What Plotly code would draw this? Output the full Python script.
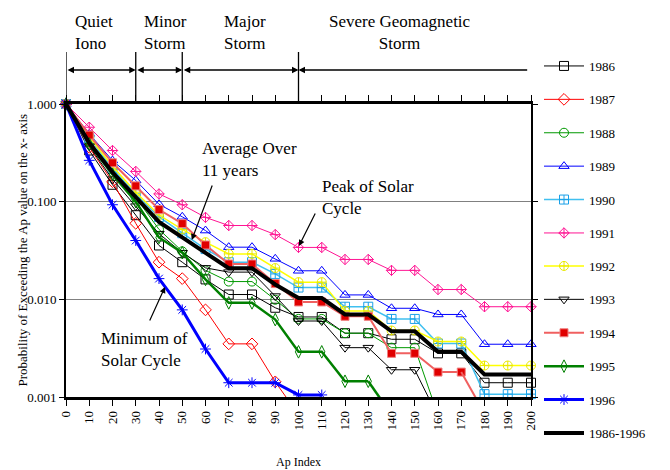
import plotly.graph_objects as go

ap_index = list(range(0, 201, 10))
x_ticks = list(range(0, 201, 10))
y_tickvals = [1, 0.1, 0.01, 0.001]
y_ticktext = ["1.000", "0.100", "0.010", "0.001"]

y1986 = [1, 0.334, 0.149, 0.0727, 0.0356, 0.024, 0.016, 0.0112, 0.0112, 0.0082, 0.0066,
         0.0066, 0.0045, 0.0045, 0.0039, 0.0039, 0.0028, 0.0028, 0.0014, 0.0014, 0.0014]
y1987 = [1, 0.36, 0.16, 0.06, 0.024, 0.0163, 0.0078, 0.0035, 0.0035, 0.00143, 0.00066,
         None, None, None, None, None, None, None, None, None, None]
y1988 = [1, 0.41, 0.22, 0.11, 0.052, 0.031, 0.0198, 0.0152, 0.0152, 0.0099, 0.0063,
         0.0063, 0.0045, 0.0045, 0.0032, 0.0032, 0.00065, None, None, None, None]
y1989 = [1, 0.494, 0.264, 0.165, 0.094, 0.070, 0.0506, 0.0342, 0.0342, 0.026, 0.0196,
         0.0196, 0.0111, 0.0111, 0.0081, 0.0081, 0.0070, 0.0070, 0.00347, 0.00347, 0.00347]
y1990 = [1, 0.45, 0.217, 0.12, 0.0697, 0.0475, 0.0327, 0.024, 0.024, 0.0182, 0.0132,
         0.0132, 0.0084, 0.0084, 0.0063, 0.0063, 0.00353, 0.00353, 0.00107, 0.00107, 0.00107]
y1991 = [1, 0.578, 0.334, 0.204, 0.12, 0.093, 0.069, 0.057, 0.057, 0.046, 0.034,
         0.034, 0.0256, 0.0256, 0.0198, 0.0198, 0.0126, 0.0126, 0.0084, 0.0084, 0.0084]
y1992 = [1, 0.46, 0.23, 0.125, 0.073, 0.052, 0.0385, 0.0292, 0.0292, 0.0209, 0.0150,
         0.0150, 0.0076, 0.0076, 0.0048, 0.0048, 0.0037, 0.0037, 0.0021, 0.0021, 0.0021]
y1993 = [1, 0.37, 0.17, 0.09, 0.047, 0.03, 0.021, 0.019, 0.019, 0.0108, 0.006,
         0.006, 0.0032, 0.0032, 0.0019, 0.0019, 0.00063, None, None, None, None]
y1994 = [1, 0.48, 0.25, 0.145, 0.083, 0.0596, 0.036, 0.023, 0.023, 0.0145, 0.0094,
         0.0094, 0.0067, 0.0067, 0.0028, 0.0028, 0.0018, 0.0018, 0.00068, None, None]
y1995 = [1, 0.39, 0.19, 0.10, 0.043, 0.030, 0.016, 0.0092, 0.0092, 0.0062, 0.0029,
         0.0029, 0.00145, 0.00145, 0.00066, None, None, None, None, None, None]
y1996 = [1, 0.265, 0.093, 0.04, 0.0163, 0.0078, 0.0031, 0.0014, 0.0014, 0.0014, 0.00105,
         0.00105, None, None, None, None, None, None, None, None, None]
y_avg = [1, 0.40, 0.2, 0.11, 0.062, 0.043, 0.030, 0.0208, 0.0208, 0.0142, 0.0103,
         0.0103, 0.0070, 0.0070, 0.0047, 0.0047, 0.0029, 0.0029, 0.0017, 0.0017, 0.0017]

series = [
    ("1986", y1986, dict(color="#000000", width=1), dict(symbol="square-open", color="#000000", size=9)),
    ("1987", y1987, dict(color="#ff0000", width=1), dict(symbol="diamond-open", color="#ff0000", size=9)),
    ("1988", y1988, dict(color="#009900", width=1), dict(symbol="circle-open", color="#009900", size=9)),
    ("1989", y1989, dict(color="#0000ff", width=1), dict(symbol="triangle-up-open", color="#0000ff", size=9)),
    ("1990", y1990, dict(color="#40c0f0", width=1.5), dict(symbol="square-cross-open", color="#1aa0e8", size=9)),
    ("1991", y1991, dict(color="#ff1493", width=1), dict(symbol="diamond-cross-open", color="#ff1493", size=8)),
    ("1992", y1992, dict(color="#ffff00", width=1.5), dict(symbol="circle-cross-open", color="#e8e800", size=9)),
    ("1993", y1993, dict(color="#000000", width=1), dict(symbol="triangle-down-open", color="#000000", size=9)),
    ("1994", y1994, dict(color="#f06060", width=2), dict(symbol="square", color="#e00000", size=8,
                                                          line=dict(color="#f08080", width=1))),
    ("1995", y1995, dict(color="#008000", width=2.5), dict(symbol="diamond-tall-open", color="#008000", size=9)),
    ("1996", y1996, dict(color="#0000ff", width=3), dict(symbol="asterisk-open", color="#0000ff", size=9)),
]

Y_MIN = 0.001

fig = go.Figure()
for i, (name, ys, line, marker) in enumerate(series):
    leg = "legend" if i < 6 else "legend2"
    # index of first value that falls below the axis floor
    k = next((j for j, v in enumerate(ys) if v is not None and v < Y_MIN), None)
    main = list(ys) if k is None else [v if j < k else None for j, v in enumerate(ys)]
    fig.add_trace(go.Scatter(x=ap_index, y=main, name=name, mode="lines+markers",
                             line=line, marker=marker, cliponaxis=False,
                             legendgroup=name, legend=leg))
    if k is not None:
        # the drop-off segment running out of the bottom of the plot
        fig.add_trace(go.Scatter(x=ap_index[k - 1:k + 1], y=ys[k - 1:k + 1], mode="lines",
                                 line=line, showlegend=False, legendgroup=name,
                                 legend=leg, hoverinfo="skip"))
fig.add_trace(go.Scatter(x=ap_index, y=y_avg, name="1986-1996", mode="lines",
                         line=dict(color="#000000", width=4), legendgroup="avg",
                         legend="legend2"))

serif = "Liberation Serif"

L, R, T, B = 66, 139, 104, 73
W, H = 670, 470
pw = W - L - R
ph = H - T - B


def px_to_paper_y(py):
    return (H - B - py) / ph


def px_to_paper_x(px):
    return (px - L) / pw


annotations = []
header = [("Quiet<br>Iono", 73, "left"), ("Minor<br>Storm", 142, "left"),
          ("Major<br>Storm", 222, "left"), ("Severe Geomagnetic<br>Storm", 400, "center")]
for txt, px, anchor in header:
    annotations.append(dict(text=txt, xref="paper", yref="paper", x=px_to_paper_x(px),
                            y=px_to_paper_y(33), xanchor=anchor, yanchor="middle", align=anchor,
                            showarrow=False, font=dict(family=serif, size=17, color="#000")))

arrow_y = px_to_paper_y(70)
segments = [(0, 30), (30, 50), (50, 100)]
for a, b in segments:
    annotations.append(dict(text="", x=b, y=arrow_y, xref="x", yref="paper", ax=a, ay=0,
                            axref="x", ayref="pixel", showarrow=True, arrowside="end+start",
                            arrowhead=2, startarrowhead=2, arrowsize=1, startarrowsize=1,
                            arrowwidth=1.3, arrowcolor="#000"))
annotations.append(dict(text="", x=100, y=arrow_y, xref="x", yref="paper", ax=199, ay=0,
                        axref="x", ayref="pixel", showarrow=True, arrowside="end",
                        arrowhead=2, arrowsize=1, arrowwidth=1.3, arrowcolor="#000"))

callouts = [("Average Over<br>11 years", 200, 159), ("Peak of Solar<br>Cycle", 320, 197),
            ("Minimum of<br>Solar Cycle", 99, 349)]
for txt, px, py in callouts:
    annotations.append(dict(text=txt, xref="paper", yref="paper", x=px_to_paper_x(px),
                            y=px_to_paper_y(py), xanchor="left", yanchor="middle", align="left",
                            showarrow=False, font=dict(family=serif, size=17, color="#000")))

pointers = [(54.1, -1.392, 21, -56), (100.2, -1.453, 17, -34), (42.6, -1.873, -16, 35)]
for xh, yh, ax, ay in pointers:
    annotations.append(dict(text="", x=xh, y=yh, xref="x", yref="y", ax=ax, ay=ay,
                            showarrow=True, arrowhead=2, arrowsize=1, arrowwidth=1.2,
                            arrowcolor="#000"))

annotations.append(dict(text="Probability of Exceeding the Ap value on the x- axis",
                        xref="paper", yref="paper", x=px_to_paper_x(22), y=0.5, textangle=-90,
                        showarrow=False, xanchor="center", yanchor="middle",
                        font=dict(family=serif, size=13, color="#000")))
annotations.append(dict(text="Ap Index", xref="paper", yref="paper", x=0.5,
                        y=px_to_paper_y(462), showarrow=False, xanchor="center",
                        yanchor="middle", font=dict(family=serif, size=12, color="#000")))

shapes = []
for xv in [0, 30, 50, 100]:
    shapes.append(dict(type="line", xref="x", yref="paper", x0=xv, x1=xv,
                       y0=1.0, y1=px_to_paper_y(52), line=dict(color="#000", width=1.3)))

legend_common = dict(x=px_to_paper_x(539), xanchor="left", yanchor="top",
                     font=dict(family=serif, size=13, color="#000"), tracegroupgap=13.5,
                     itemwidth=40, bgcolor="rgba(0,0,0,0)")

fig.update_layout(
    width=W, height=H, margin=dict(l=L, r=R, t=T, b=B),
    paper_bgcolor="white", plot_bgcolor="white",
    font=dict(family=serif, size=13, color="#000"),
    showlegend=True,
    legend=dict(y=px_to_paper_y(51), **legend_common),
    legend2=dict(y=px_to_paper_y(251), **legend_common),
    annotations=annotations, shapes=shapes,
    xaxis=dict(range=[0, 200], tickvals=x_ticks, ticktext=[str(v) for v in x_ticks],
               tickangle=-90, ticks="outside", ticklen=6, tickwidth=1.3, tickcolor="#000",
               showline=True, linecolor="#000", linewidth=2.5, mirror="ticks",
               showgrid=False, zeroline=False, tickfont=dict(family=serif, size=13)),
    yaxis=dict(type="log", range=[-3, 0], tickvals=y_tickvals, ticktext=y_ticktext,
               ticks="outside", ticklen=5, tickwidth=1.3, tickcolor="#000",
               showline=True, linecolor="#000", linewidth=2, mirror="ticks",
               showgrid=True, gridcolor="#808080", gridwidth=1.3, zeroline=False,
               tickfont=dict(family=serif, size=13)),
)

fig.write_html("out.html")
